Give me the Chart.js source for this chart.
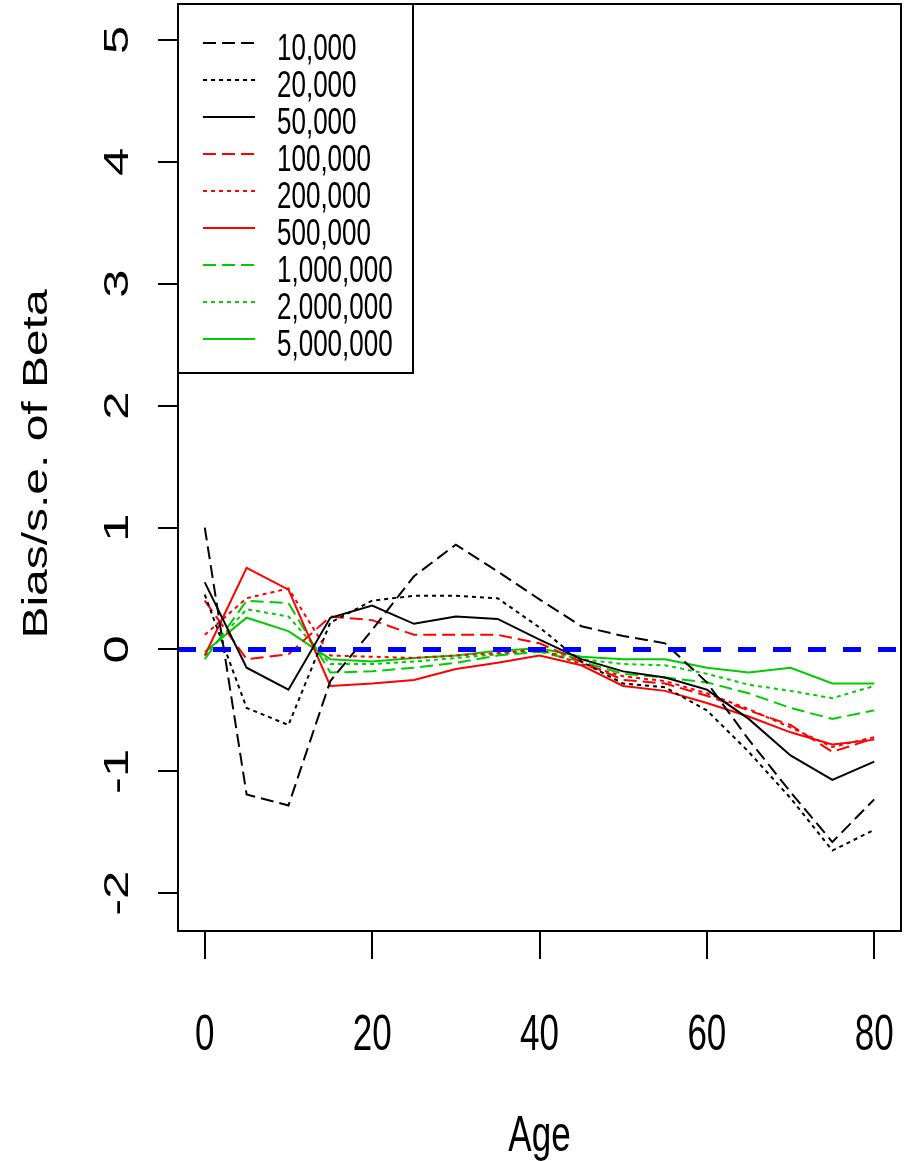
<!DOCTYPE html>
<html>
<head>
<meta charset="utf-8">
<script src="https://cdn.jsdelivr.net/npm/chart.js@4/dist/chart.umd.min.js"></script>
<style>
  html, body { margin: 0; padding: 0; background: #fff; }
  #wrap { width: 910px; height: 1161px; position: relative; }
</style>
</head>
<body>
<div id="wrap"><canvas id="chart"></canvas></div>
<script>
// data
var ages = [0, 5, 10, 15, 20, 25, 30, 35, 40, 45, 50, 55, 60, 65, 70, 75, 80];
var xTicks = [0, 20, 40, 60, 80];
var yTicks = [-2, -1, 0, 1, 2, 3, 4, 5];
var sizes = ['10,000', '20,000', '50,000', '100,000', '200,000', '500,000', '1,000,000', '2,000,000', '5,000,000'];

var n10k  = [1.00, -1.19, -1.28, -0.26, 0.16, 0.60, 0.86, 0.64, 0.41, 0.19, 0.11, 0.05, -0.27, -0.74, -1.17, -1.58, -1.23];
var n20k  = [0.45, -0.48, -0.62, 0.22, 0.40, 0.44, 0.44, 0.42, 0.18, -0.10, -0.28, -0.31, -0.50, -0.84, -1.22, -1.65, -1.48];
var n50k  = [0.55, -0.15, -0.33, 0.26, 0.36, 0.21, 0.27, 0.25, 0.08, -0.08, -0.18, -0.23, -0.33, -0.57, -0.87, -1.07, -0.92];
var n100k = [0.40, -0.08, -0.04, 0.27, 0.24, 0.12, 0.12, 0.12, 0.05, -0.10, -0.25, -0.28, -0.38, -0.50, -0.62, -0.84, -0.73];
var n200k = [0.12, 0.42, 0.50, -0.05, -0.06, -0.07, -0.05, -0.03, 0.00, -0.12, -0.22, -0.26, -0.36, -0.49, -0.64, -0.80, -0.72];
var n500k = [-0.05, 0.67, 0.49, -0.30, -0.28, -0.25, -0.16, -0.11, -0.05, -0.13, -0.30, -0.34, -0.44, -0.55, -0.68, -0.78, -0.74];
var n1m   = [-0.08, 0.40, 0.38, -0.19, -0.18, -0.15, -0.11, -0.05, -0.02, -0.10, -0.20, -0.23, -0.27, -0.36, -0.48, -0.57, -0.50];
var n2m   = [-0.05, 0.33, 0.27, -0.12, -0.12, -0.10, -0.07, -0.04, -0.01, -0.08, -0.12, -0.13, -0.20, -0.29, -0.34, -0.40, -0.30];
var n5m   = [-0.02, 0.26, 0.15, -0.08, -0.10, -0.07, -0.05, -0.01, 0.01, -0.06, -0.08, -0.08, -0.15, -0.19, -0.15, -0.28, -0.28];
var refLine = [0, 0];

var series = [n10k, n20k, n50k, n100k, n200k, n500k, n1m, n2m, n5m];

// styles
var lineColors = ['#000', '#000', '#000', '#ff0000', '#ff0000', '#ff0000', '#00cc00', '#00cc00', '#00cc00'];
var dashed = [13, 6], dotted = [4, 4], solid = [];
var lineDashes = [dashed, dotted, solid, dashed, dotted, solid, dashed, dotted, solid];

var xMin = -3.2, xMax = 83.2;
var SY = 1.45; // the picture is stretched vertically
var FONT = '"Liberation Sans", Arial, sans-serif';

var datasets = [];
// blue h=0 line on top
datasets.push({
  data: [{x: xMin, y: refLine[0]}, {x: xMax, y: refLine[1]}],
  borderColor: '#0000ff',
  borderWidth: 5,
  borderDash: [18, 17],
  pointRadius: 0,
  order: 0
});
for (var i = 0; i < series.length; i++) {
  datasets.push({
    label: sizes[i],
    data: ages.map(function (a, k) { return {x: a, y: series[i][k]}; }),
    borderColor: lineColors[i],
    borderWidth: 2,
    borderDash: lineDashes[i],
    pointRadius: 0,
    tension: 0,
    fill: false,
    order: 1
  });
}

function stretchText(ctx, txt, x, y, rotated, k) {
  k = k || SY;
  ctx.save();
  ctx.translate(x, y);
  if (rotated) {
    ctx.rotate(-Math.PI / 2);
    ctx.scale(k, 1);
  } else {
    ctx.scale(1, k);
  }
  ctx.fillText(txt, 0, 0);
  ctx.restore();
}

var rLook = {
  id: 'rLook',
  afterDraw: function (chart) {
    var ctx = chart.ctx, a = chart.chartArea;
    var xs = chart.scales.x, ys = chart.scales.y;
    ctx.save();
    // plot box
    ctx.strokeStyle = '#000';
    ctx.lineWidth = 2;
    ctx.setLineDash([]);
    ctx.strokeRect(a.left, a.top, a.right - a.left, a.bottom - a.top);

    ctx.fillStyle = '#000';
    ctx.font = '35px ' + FONT;
    ctx.textAlign = 'center';
    ctx.textBaseline = 'alphabetic';
    // x tick labels
    xTicks.forEach(function (v) {
      stretchText(ctx, String(v), xs.getPixelForValue(v), 1050, false);
    });
    // y tick labels, parallel to the axis
    yTicks.forEach(function (v) {
      stretchText(ctx, String(v), 128, ys.getPixelForValue(v), true);
    });
    // axis titles
    stretchText(ctx, 'Age', (a.left + a.right) / 2, 1151, false);
    stretchText(ctx, 'Bias/s.e. of Beta', 47, 464, true, 1.37);

    // legend
    var lx = a.left, ly = a.top, lw = 235, lh = 369;
    ctx.fillStyle = '#fff';
    ctx.fillRect(lx, ly, lw, lh);
    ctx.strokeStyle = '#000';
    ctx.lineWidth = 2;
    ctx.strokeRect(lx, ly, lw, lh);
    ctx.font = '26px ' + FONT;
    ctx.textAlign = 'left';
    for (var i = 0; i < sizes.length; i++) {
      var ds = chart.data.datasets[i + 1];
      var ry = ly + 39 + 37 * i;
      ctx.strokeStyle = ds.borderColor;
      ctx.lineWidth = 2;
      ctx.setLineDash(ds.borderDash);
      ctx.beginPath();
      ctx.moveTo(lx + 25, ry);
      ctx.lineTo(lx + 77, ry);
      ctx.stroke();
      ctx.setLineDash([]);
      ctx.fillStyle = '#000';
      stretchText(ctx, sizes[i], lx + 99, ry + 17, false);
    }
    ctx.restore();
  }
};

new Chart(document.getElementById('chart'), {
  type: 'line',
  data: { datasets: datasets },
  options: {
    responsive: true,
    maintainAspectRatio: false,
    animation: false,
    events: [],
    layout: { padding: { top: 4, right: 9, left: 0, bottom: 0 } },
    plugins: {
      legend: { display: false },
      tooltip: { enabled: false }
    },
    scales: {
      x: {
        type: 'linear',
        min: xMin,
        max: xMax,
        afterBuildTicks: function (s) { s.ticks = xTicks.map(function (v) { return {value: v}; }); },
        afterFit: function (s) { s.height = 230; },
        ticks: { display: false },
        border: { display: false },
        grid: { drawOnChartArea: false, drawTicks: true, tickLength: 28, color: '#000', lineWidth: 2 }
      },
      y: {
        type: 'linear',
        min: -2.31,
        max: 5.295,
        afterBuildTicks: function (s) { s.ticks = yTicks.map(function (v) { return {value: v}; }); },
        afterFit: function (s) { s.width = 178; },
        ticks: { display: false },
        border: { display: false },
        grid: { drawOnChartArea: false, drawTicks: true, tickLength: 20, color: '#000', lineWidth: 2 }
      }
    }
  },
  plugins: [rLook]
});
</script>
</body>
</html>
